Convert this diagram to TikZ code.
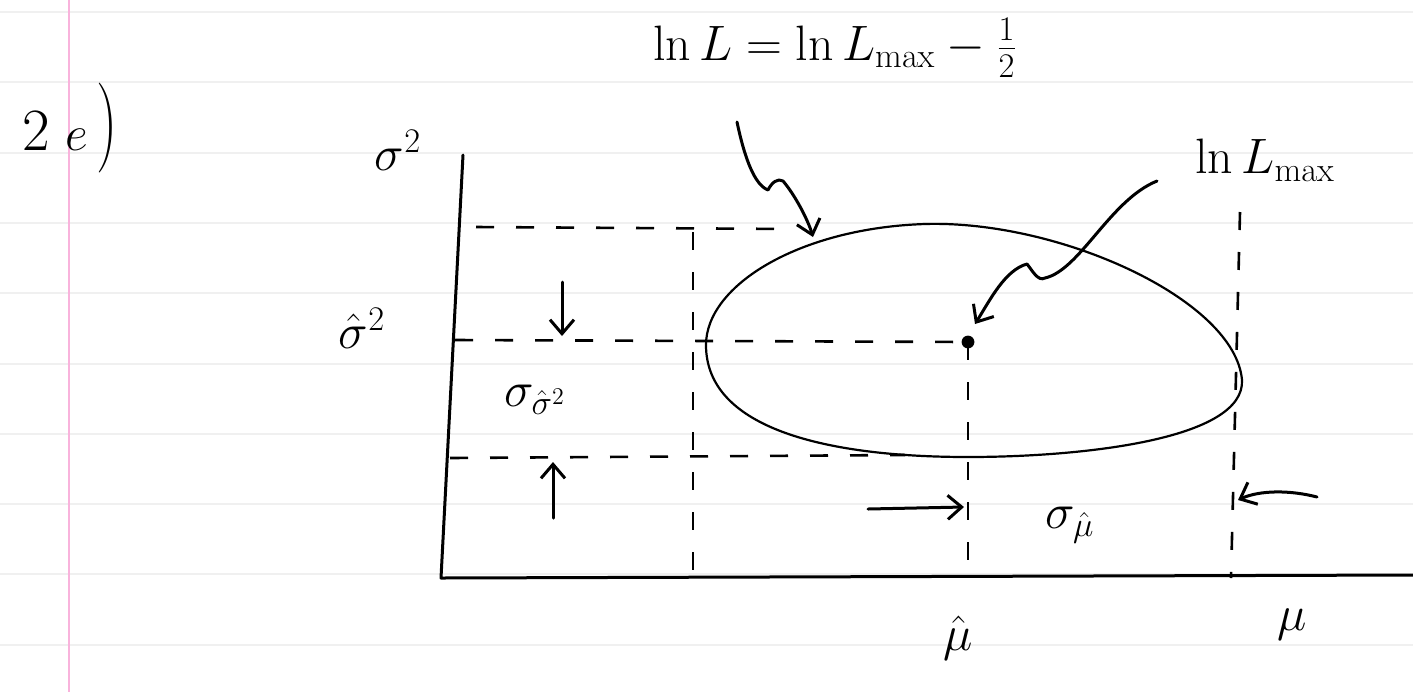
\documentclass[tikz,border=0pt]{standalone}
\usepackage{graphicx}
\usetikzlibrary{arrows.meta}
\begin{document}
\begin{tikzpicture}[x=0.5pt,y=-0.5pt,
  ink/.style={line width=1.5pt, line cap=round, line join=round},
  thin ink/.style={line width=1.1pt, line cap=round, line join=round},
  dashln/.style={line width=1.3pt, dash pattern=on 9pt off 11pt},
  barb/.style={ink, -{Straight Barb[length=7pt,width=12pt,line width=1.5pt]}},
  lbl/.style={font=\fontsize{24}{28}\selectfont, inner sep=0pt}]
\useasboundingbox (0,0) rectangle (1413,692);
\fill[white] (0,0) rectangle (1413,692);
% ruled paper
\foreach \k in {0,...,9} \draw[gray!12, line width=1pt] (0,12+70.3*\k) -- (1413,12+70.3*\k);
\draw[magenta!30, line width=1.2pt] (69,0) -- (69,692);

% axes
\coordinate (ytop) at (463,155);
\coordinate (org) at (441,578);
\coordinate (xend) at (1413,575);
\draw[ink] (ytop) -- (org) -- (xend);

% key points
\coordinate (dot) at (968,342);
\coordinate (tl) at (476,227);
\coordinate (tr) at (790,229);
\coordinate (vl1) at (693,232);
\coordinate (vl2) at (693,578);
\coordinate (ml) at (455,340);
\coordinate (ll) at (450,458);
\coordinate (lr) at (905,455);
\coordinate (vm2) at (968,578);
\coordinate (vr1) at (1240,212);
\coordinate (vr2) at (1231,578);

% dashed guides
\draw[dashln] (tl) -- (tr);
\draw[dashln] (vl1) -- (vl2);
\draw[dashln] (ml) -- (dot);
\draw[dashln] (ll) -- (lr);
\draw[dashln] (dot) -- (vm2);
\draw[dashln] (vr1) -- (vr2);

% contour ln L = ln L_max - 1/2
\draw[thin ink] (706,345) .. controls (706,285) and (800,228) .. (925,224)
  .. controls (1060,220) and (1235,300) .. (1242,380)
  .. controls (1245,440) and (1080,457) .. (968,457)
  .. controls (830,457) and (706,430) .. (706,345) -- cycle;

% maximum
\fill (dot) circle[radius=3.2pt];

% labels
\node[lbl] (part) at (70,128) {\fontsize{30}{34}\selectfont 2\hspace{8pt}$e$\hspace{4pt}\scalebox{1}[1.5]{)}};
\node[lbl] (s2) at (398,150) {$\sigma^2$};
\node[lbl] (s2hat) at (362,328) {$\hat\sigma^2$};
\node[lbl] (ssig) at (535,400) {$\sigma_{\hat\sigma^2}$};
\node[lbl] (contour) at (835,48) {\fontsize{25}{30}\selectfont $\ln L = \ln L_{\max} - \frac{1}{2}$};
\node[lbl] (lmax) at (1265,160) {$\ln L_{\max}$};
\node[lbl] (muhat) at (958,638) {$\hat\mu$};
\node[lbl] (mu) at (1292,625) {$\mu$};
\node[lbl] (smu) at (1070,525) {$\sigma_{\hat\mu}$};

% squiggly pointer arrows
\coordinate (c1) at (737,122);
\coordinate (c2) at (768,190);
\coordinate (c3) at (783,181);
\coordinate (c4) at (813,237);
\draw[barb] (c1) .. controls (745,160) and (755,185) .. (c2)
  .. controls (772,182) and (778,178) .. (c3)
  .. controls (795,195) and (808,220) .. (c4);

\coordinate (d1) at (1157,181);
\coordinate (d2) at (1045,278);
\coordinate (d3) at (1027,264);
\coordinate (d4) at (975,324);
\draw[barb] (d1) .. controls (1110,200) and (1080,270) .. (d2)
  .. controls (1038,282) and (1032,270) .. (d3)
  .. controls (1005,270) and (990,300) .. (d4);

% error bar arrows
\coordinate (a1) at (562,282);
\coordinate (a2) at (562,336);
\draw[barb] (a1) -- (a2);
\coordinate (b1) at (553,518);
\coordinate (b2) at (553,462);
\draw[barb] (b1) -- (b2);
\coordinate (e1) at (868,509);
\coordinate (e2) at (964,507);
\draw[barb] (e1) -- (e2);
\coordinate (f1) at (1317,497);
\coordinate (f2) at (1238,500);
\draw[barb] (f1) .. controls (1290,490) and (1260,490) .. (f2);
\end{tikzpicture}
\end{document}
